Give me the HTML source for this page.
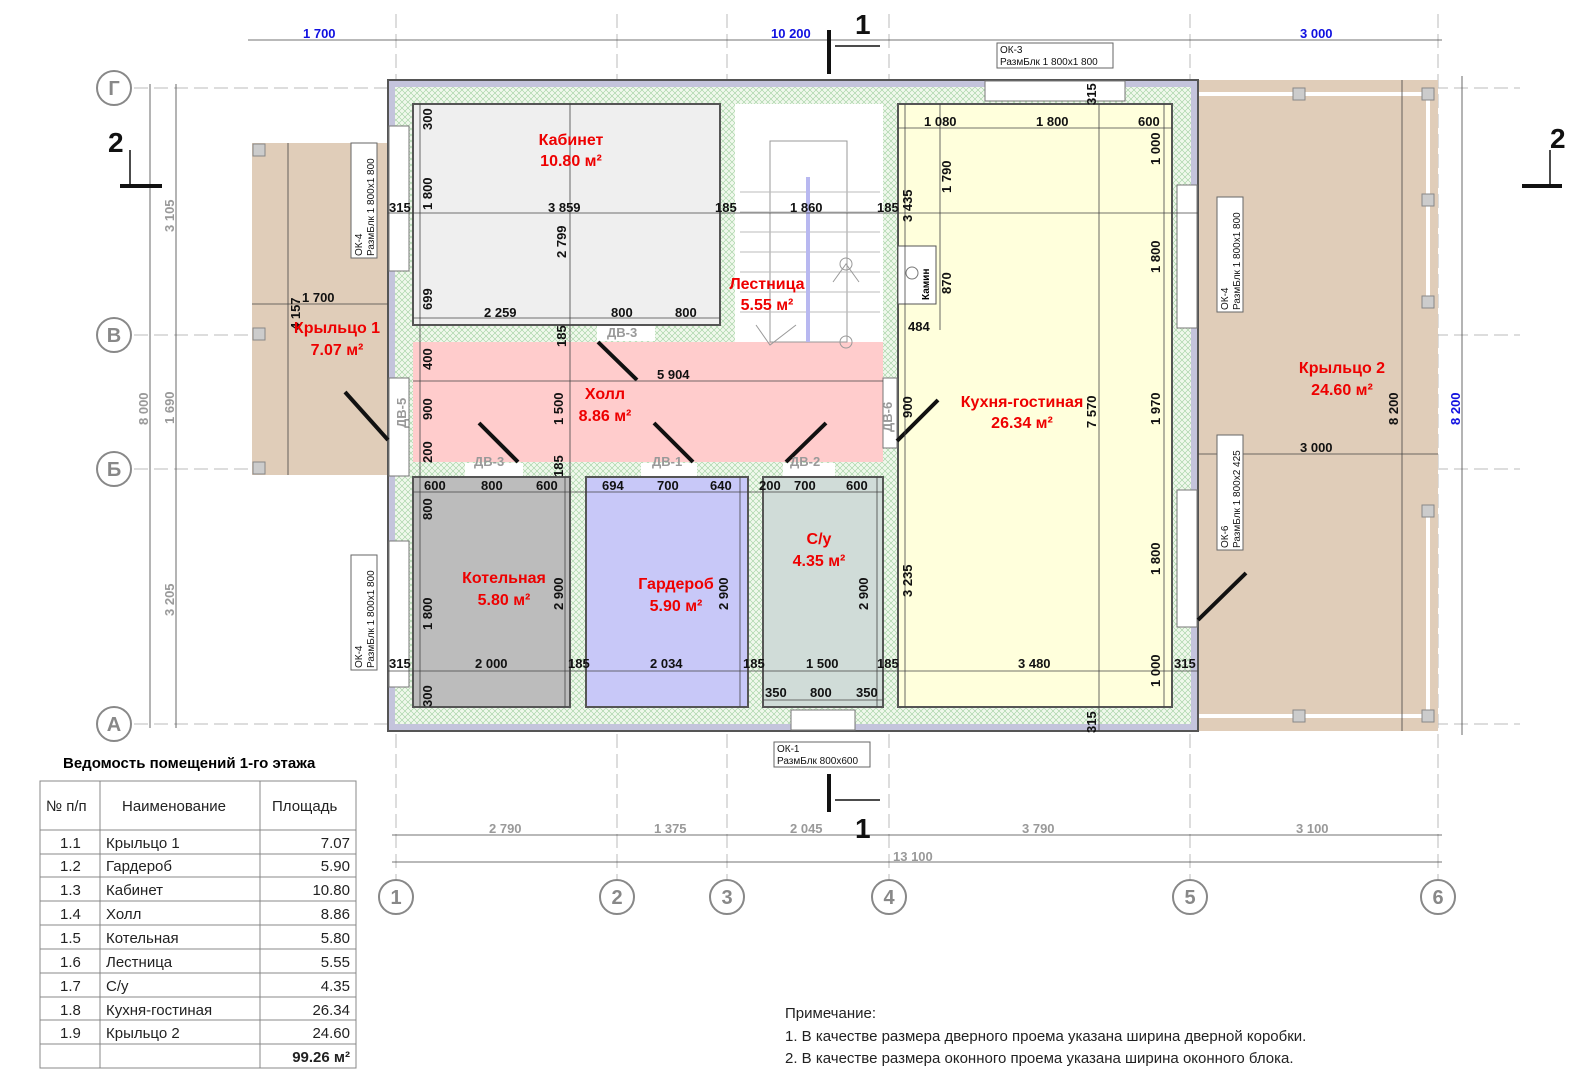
<!DOCTYPE html>
<html><head><meta charset="utf-8"><style>
body{margin:0;background:#fff;}
svg{display:block;font-family:"Liberation Sans","Noto Sans CJK SC",sans-serif;}
.d{font-size:13px;font-weight:bold;fill:#111;}
.r{font-size:16px;font-weight:bold;fill:#e00;}
.g{font-size:13px;font-weight:bold;fill:#999;}
.b{font-size:13px;font-weight:bold;fill:#1010e0;}
.gr{font-size:13px;font-weight:bold;fill:#999;}
.t{font-size:15px;fill:#222;}
.ax{fill:#fff;stroke:#888;stroke-width:2;}
.axt{font-size:20px;font-weight:bold;fill:#888;}
</style></head><body>
<svg width="1580" height="1080" viewBox="0 0 1580 1080">
<defs>
<pattern id="h" width="6" height="6" patternUnits="userSpaceOnUse">
<rect width="6" height="6" fill="#f0f8ec"/>
<path d="M0 0L6 6M6 0L0 6" stroke="#9fd09f" stroke-width="0.6"/>
</pattern>
</defs>
<g stroke="#bbb" stroke-width="1" stroke-dasharray="14 6">
<line x1="396" y1="14" x2="396" y2="880"/><line x1="617" y1="14" x2="617" y2="880"/>
<line x1="727" y1="14" x2="727" y2="880"/><line x1="889" y1="14" x2="889" y2="880"/>
<line x1="1190" y1="14" x2="1190" y2="880"/><line x1="1438" y1="14" x2="1438" y2="880"/>
<line x1="134" y1="88" x2="1520" y2="88"/><line x1="134" y1="335" x2="1520" y2="335"/>
<line x1="134" y1="469" x2="1520" y2="469"/><line x1="134" y1="724" x2="1520" y2="724"/>
</g>
<rect x="252" y="143" width="136" height="332" fill="#e0cdb9"/>
<rect x="1198" y="80" width="240" height="651" fill="#e0cdb9"/>
<line x1="1198" y1="94" x2="1428" y2="94" stroke="#fff" stroke-width="4"/>
<line x1="1428" y1="94" x2="1428" y2="300" stroke="#fff" stroke-width="4"/>
<line x1="1428" y1="508" x2="1428" y2="716" stroke="#fff" stroke-width="4"/>
<line x1="1198" y1="716" x2="1428" y2="716" stroke="#fff" stroke-width="4"/>
<g fill="#ccc" stroke="#888">
<rect x="253" y="144" width="12" height="12"/><rect x="253" y="328" width="12" height="12"/><rect x="253" y="462" width="12" height="12"/>
<rect x="1293" y="88" width="12" height="12"/><rect x="1422" y="88" width="12" height="12"/><rect x="1422" y="194" width="12" height="12"/><rect x="1422" y="296" width="12" height="12"/>
<rect x="1422" y="505" width="12" height="12"/><rect x="1422" y="710" width="12" height="12"/><rect x="1293" y="710" width="12" height="12"/>
</g>
<rect x="388" y="80" width="810" height="651" fill="#c4c4dc" stroke="#555" stroke-width="2"/>
<rect x="395" y="87" width="796" height="637" fill="url(#h)"/>
<rect x="413" y="104" width="307" height="221" fill="#efefef" stroke="#555" stroke-width="2"/>
<rect x="735" y="104" width="148" height="238" fill="#fff"/>
<rect x="413" y="342" width="470" height="120" fill="#ffcccc"/>
<rect x="413" y="477" width="157" height="230" fill="#bcbcbc" stroke="#555" stroke-width="2"/>
<rect x="586" y="477" width="162" height="230" fill="#c8c8f8" stroke="#555" stroke-width="2"/>
<rect x="763" y="477" width="120" height="230" fill="#d0dcd8" stroke="#555" stroke-width="2"/>
<rect x="898" y="104" width="274" height="603" fill="#ffffdc" stroke="#555" stroke-width="2"/>
<g stroke="#bbb" fill="none" stroke-width="1">
<rect x="770" y="141" width="77" height="201" stroke="#999"/>
<line x1="740" y1="192" x2="880" y2="192"/><line x1="740" y1="212" x2="880" y2="212"/><line x1="740" y1="232" x2="880" y2="232"/><line x1="740" y1="252" x2="880" y2="252"/><line x1="740" y1="272" x2="880" y2="272"/><line x1="740" y1="292" x2="880" y2="292"/><line x1="740" y1="312" x2="880" y2="312"/>
<circle cx="846" cy="264" r="6" stroke="#999"/><circle cx="846" cy="342" r="6" stroke="#999"/>
<path d="M833 282L846 264L859 282M756 325L770 345L796 325" stroke="#999"/>
</g>
<line x1="808" y1="177" x2="808" y2="342" stroke="#b8b8f0" stroke-width="4"/>
<rect x="898" y="246" width="38" height="58" fill="#fff" stroke="#555"/>
<circle cx="912" cy="273" r="6" fill="none" stroke="#777"/>
<g fill="#fff" stroke="#777">
<rect x="389" y="126" width="20" height="145"/><rect x="389" y="541" width="20" height="146"/>
<rect x="985" y="81" width="140" height="20"/><rect x="1177" y="185" width="20" height="143"/>
<rect x="1177" y="490" width="20" height="137"/><rect x="791" y="710" width="64" height="20"/>
<rect x="389" y="378" width="20" height="98"/><rect x="883" y="378" width="14" height="70"/>
</g>
<g fill="#fff">
<rect x="597" y="326" width="58" height="15"/><rect x="465" y="463" width="58" height="13"/>
<rect x="641" y="463" width="56" height="13"/><rect x="783" y="463" width="52" height="13"/>
</g>
<g stroke="#111" stroke-width="4">
<line x1="598" y1="342" x2="637" y2="380"/><line x1="479" y1="423" x2="518" y2="462"/>
<line x1="654" y1="423" x2="693" y2="462"/><line x1="826" y1="423" x2="786" y2="462"/>
<line x1="345" y1="392" x2="388" y2="440"/><line x1="897" y1="441" x2="938" y2="400"/>
<line x1="1198" y1="620" x2="1246" y2="573"/>
</g>
<g class="g"><text x="607" y="337">ДВ-3</text><text x="474" y="466">ДВ-3</text><text x="652" y="466">ДВ-1</text><text x="790" y="466">ДВ-2</text>
<text transform="translate(406 428) rotate(-90)">ДВ-5</text><text transform="translate(892 432) rotate(-90)">ДВ-6</text></g>
<g stroke="#444" stroke-width="0.8">
<line x1="388" y1="213" x2="1198" y2="213"/><line x1="413" y1="318" x2="720" y2="318"/>
<line x1="413" y1="381" x2="883" y2="381"/><line x1="388" y1="671" x2="1198" y2="671"/>
<line x1="413" y1="492" x2="883" y2="492"/><line x1="763" y1="700" x2="883" y2="700"/>
<line x1="898" y1="128" x2="1172" y2="128"/><line x1="1099" y1="104" x2="1099" y2="731"/>
<line x1="570" y1="104" x2="570" y2="477"/><line x1="420" y1="104" x2="420" y2="707"/>
<line x1="905" y1="104" x2="905" y2="707"/><line x1="1164" y1="104" x2="1164" y2="707"/>
<line x1="940" y1="104" x2="940" y2="330"/><line x1="1198" y1="454" x2="1438" y2="454"/>
<line x1="1402" y1="80" x2="1402" y2="731"/><line x1="288" y1="143" x2="288" y2="475"/>
<line x1="252" y1="304" x2="388" y2="304"/>
<line x1="565" y1="477" x2="565" y2="707"/><line x1="740" y1="477" x2="740" y2="707"/><line x1="877" y1="477" x2="877" y2="707"/>
</g>
<g class="d">
<text x="389" y="212">315</text><text x="548" y="212">3 859</text><text x="715" y="212">185</text><text x="790" y="212">1 860</text><text x="877" y="212">185</text>
<text x="484" y="317">2 259</text><text x="611" y="317">800</text><text x="675" y="317">800</text>
<text x="657" y="379">5 904</text>
<text x="424" y="490">600</text><text x="481" y="490">800</text><text x="536" y="490">600</text>
<text x="602" y="490">694</text><text x="657" y="490">700</text><text x="710" y="490">640</text>
<text x="759" y="490">200</text><text x="794" y="490">700</text><text x="846" y="490">600</text>
<text x="389" y="668">315</text><text x="475" y="668">2 000</text><text x="568" y="668">185</text><text x="650" y="668">2 034</text><text x="743" y="668">185</text><text x="806" y="668">1 500</text><text x="877" y="668">185</text><text x="1018" y="668">3 480</text><text x="1174" y="668">315</text>
<text x="765" y="697">350</text><text x="810" y="697">800</text><text x="856" y="697">350</text>
<text x="924" y="126">1 080</text><text x="1036" y="126">1 800</text><text x="1138" y="126">600</text>
<text x="908" y="331">484</text><text x="302" y="302">1 700</text>
<text x="1300" y="452">3 000</text>
</g>
<g class="d">
<text transform="translate(432 130) rotate(-90)">300</text><text transform="translate(432 210) rotate(-90)">1 800</text><text transform="translate(432 310) rotate(-90)">699</text>
<text transform="translate(566 258) rotate(-90)">2 799</text><text transform="translate(566 347) rotate(-90)">185</text>
<text transform="translate(432 370) rotate(-90)">400</text><text transform="translate(432 420) rotate(-90)">900</text><text transform="translate(432 463) rotate(-90)">200</text>
<text transform="translate(563 425) rotate(-90)">1 500</text><text transform="translate(563 477) rotate(-90)">185</text>
<text transform="translate(432 520) rotate(-90)">800</text><text transform="translate(432 630) rotate(-90)">1 800</text><text transform="translate(432 707) rotate(-90)">300</text>
<text transform="translate(563 610) rotate(-90)">2 900</text><text transform="translate(728 610) rotate(-90)">2 900</text><text transform="translate(868 610) rotate(-90)">2 900</text>
<text transform="translate(912 418) rotate(-90)">900</text><text transform="translate(912 597) rotate(-90)">3 235</text><text transform="translate(912 222) rotate(-90)">3 435</text>
<text transform="translate(951 193) rotate(-90)">1 790</text><text transform="translate(951 294) rotate(-90)">870</text>
<text transform="translate(1160 165) rotate(-90)">1 000</text><text transform="translate(1160 273) rotate(-90)">1 800</text><text transform="translate(1160 425) rotate(-90)">1 970</text><text transform="translate(1160 575) rotate(-90)">1 800</text><text transform="translate(1160 687) rotate(-90)">1 000</text>
<text transform="translate(1096 428) rotate(-90)">7 570</text><text transform="translate(1096 105) rotate(-90)">315</text><text transform="translate(1096 733) rotate(-90)">315</text>
<text transform="translate(1398 425) rotate(-90)">8 200</text><text transform="translate(300 330) rotate(-90)">4 157</text>
</g>
<text transform="translate(929 300) rotate(-90)" style="font-size:10px;font-weight:bold">Камин</text>
<g class="r" text-anchor="middle">
<text x="571" y="145">Кабинет</text><text x="571" y="166">10.80 м²</text>
<text x="767" y="289">Лестница</text><text x="767" y="310">5.55 м²</text>
<text x="605" y="399">Холл</text><text x="605" y="421">8.86 м²</text>
<text x="337" y="333">Крыльцо 1</text><text x="337" y="355">7.07 м²</text>
<text x="504" y="583">Котельная</text><text x="504" y="605">5.80 м²</text>
<text x="676" y="589">Гардероб</text><text x="676" y="611">5.90 м²</text>
<text x="819" y="544">С/у</text><text x="819" y="566">4.35 м²</text>
<text x="1022" y="407">Кухня-гостиная</text><text x="1022" y="428">26.34 м²</text>
<text x="1342" y="373">Крыльцо 2</text><text x="1342" y="395">24.60 м²</text>
</g>
<g fill="#fff" stroke="#666" stroke-width="1" font-size="10">
<rect x="997" y="43" width="116" height="25"/>
<rect x="351" y="143" width="26" height="115"/><rect x="351" y="555" width="26" height="115"/>
<rect x="1217" y="197" width="26" height="115"/><rect x="1217" y="435" width="26" height="115"/>
<rect x="774" y="742" width="96" height="25"/>
</g>
<g font-size="10" fill="#111">
<text x="1000" y="53">ОК-3</text><text x="1000" y="65">РазмБлк  1 800х1 800</text>
<text x="777" y="752">ОК-1</text><text x="777" y="764">РазмБлк  800х600</text>
<text transform="translate(362 256) rotate(-90)">ОК-4</text><text transform="translate(374 256) rotate(-90)">РазмБлк  1 800х1 800</text>
<text transform="translate(362 668) rotate(-90)">ОК-4</text><text transform="translate(374 668) rotate(-90)">РазмБлк  1 800х1 800</text>
<text transform="translate(1228 310) rotate(-90)">ОК-4</text><text transform="translate(1240 310) rotate(-90)">РазмБлк  1 800х1 800</text>
<text transform="translate(1228 548) rotate(-90)">ОК-6</text><text transform="translate(1240 548) rotate(-90)">РазмБлк  1 800х2 425</text>
</g>
<g stroke="#444" stroke-width="0.8">
<line x1="248" y1="40" x2="1442" y2="40"/>
<line x1="392" y1="835" x2="1442" y2="835"/><line x1="392" y1="862" x2="1442" y2="862"/>
<line x1="150" y1="84" x2="150" y2="728"/><line x1="176" y1="84" x2="176" y2="728"/>
<line x1="1462" y1="76" x2="1462" y2="735"/>
</g>
<g class="b"><text x="303" y="38">1 700</text><text x="771" y="38">10 200</text><text x="1300" y="38">3 000</text>
<text transform="translate(1460 425) rotate(-90)">8 200</text></g>
<g class="gr"><text x="489" y="833">2 790</text><text x="654" y="833">1 375</text><text x="790" y="833">2 045</text><text x="1022" y="833">3 790</text><text x="1296" y="833">3 100</text><text x="893" y="861">13 100</text>
<text transform="translate(174 232) rotate(-90)">3 105</text><text transform="translate(174 424) rotate(-90)">1 690</text><text transform="translate(174 616) rotate(-90)">3 205</text><text transform="translate(148 425) rotate(-90)">8 000</text></g>
<g stroke="#111" stroke-width="4">
<line x1="829" y1="30" x2="829" y2="74"/><line x1="829" y1="774" x2="829" y2="812"/>
<line x1="120" y1="186" x2="162" y2="186"/><line x1="1522" y1="186" x2="1562" y2="186"/>
</g>
<g stroke="#111" stroke-width="1.5"><line x1="835" y1="46" x2="880" y2="46"/><line x1="835" y1="800" x2="880" y2="800"/><line x1="130" y1="150" x2="130" y2="186"/><line x1="1550" y1="150" x2="1550" y2="186"/></g>
<g font-size="28" font-weight="bold" fill="#111"><text x="855" y="34">1</text><text x="855" y="838">1</text><text x="108" y="152">2</text><text x="1550" y="148">2</text></g>
<g><circle class="ax" cx="114" cy="88" r="17"/><circle class="ax" cx="114" cy="335" r="17"/><circle class="ax" cx="114" cy="469" r="17"/><circle class="ax" cx="114" cy="724" r="17"/>
<circle class="ax" cx="396" cy="897" r="17"/><circle class="ax" cx="617" cy="897" r="17"/><circle class="ax" cx="727" cy="897" r="17"/><circle class="ax" cx="889" cy="897" r="17"/><circle class="ax" cx="1190" cy="897" r="17"/><circle class="ax" cx="1438" cy="897" r="17"/></g>
<g class="axt" text-anchor="middle"><text x="114" y="95">Г</text><text x="114" y="342">В</text><text x="114" y="476">Б</text><text x="114" y="731">А</text>
<text x="396" y="904">1</text><text x="617" y="904">2</text><text x="727" y="904">3</text><text x="889" y="904">4</text><text x="1190" y="904">5</text><text x="1438" y="904">6</text></g>
<text x="63" y="768" style="font-size:15px;font-weight:bold">Ведомость помещений 1-го этажа</text>
<g stroke="#888" stroke-width="1" fill="none">
<rect x="40" y="781" width="316" height="287"/>
<line x1="100" y1="781" x2="100" y2="1068"/><line x1="260" y1="781" x2="260" y2="1068"/>
<line x1="40" y1="830" x2="356" y2="830"/><line x1="40" y1="854" x2="356" y2="854"/><line x1="40" y1="877" x2="356" y2="877"/><line x1="40" y1="901" x2="356" y2="901"/><line x1="40" y1="925" x2="356" y2="925"/><line x1="40" y1="949" x2="356" y2="949"/><line x1="40" y1="973" x2="356" y2="973"/><line x1="40" y1="997" x2="356" y2="997"/><line x1="40" y1="1020" x2="356" y2="1020"/><line x1="40" y1="1044" x2="356" y2="1044"/>
</g>
<g class="t">
<text x="46" y="811">№ п/п</text><text x="122" y="811">Наименование</text><text x="272" y="811">Площадь</text>
<text x="60" y="848">1.1</text><text x="106" y="848">Крыльцо 1</text><text x="350" y="848" text-anchor="end">7.07</text>
<text x="60" y="871">1.2</text><text x="106" y="871">Гардероб</text><text x="350" y="871" text-anchor="end">5.90</text>
<text x="60" y="895">1.3</text><text x="106" y="895">Кабинет</text><text x="350" y="895" text-anchor="end">10.80</text>
<text x="60" y="919">1.4</text><text x="106" y="919">Холл</text><text x="350" y="919" text-anchor="end">8.86</text>
<text x="60" y="943">1.5</text><text x="106" y="943">Котельная</text><text x="350" y="943" text-anchor="end">5.80</text>
<text x="60" y="967">1.6</text><text x="106" y="967">Лестница</text><text x="350" y="967" text-anchor="end">5.55</text>
<text x="60" y="991">1.7</text><text x="106" y="991">С/у</text><text x="350" y="991" text-anchor="end">4.35</text>
<text x="60" y="1015">1.8</text><text x="106" y="1015">Кухня-гостиная</text><text x="350" y="1015" text-anchor="end">26.34</text>
<text x="60" y="1038">1.9</text><text x="106" y="1038">Крыльцо 2</text><text x="350" y="1038" text-anchor="end">24.60</text>
<text x="350" y="1062" text-anchor="end" font-weight="bold">99.26 м²</text>
</g>
<g class="t"><text x="785" y="1018">Примечание:</text>
<text x="785" y="1041">1. В качестве размера дверного проема указана ширина дверной коробки.</text>
<text x="785" y="1063">2. В качестве размера оконного проема указана ширина оконного блока.</text></g>
</svg>
</body></html>
